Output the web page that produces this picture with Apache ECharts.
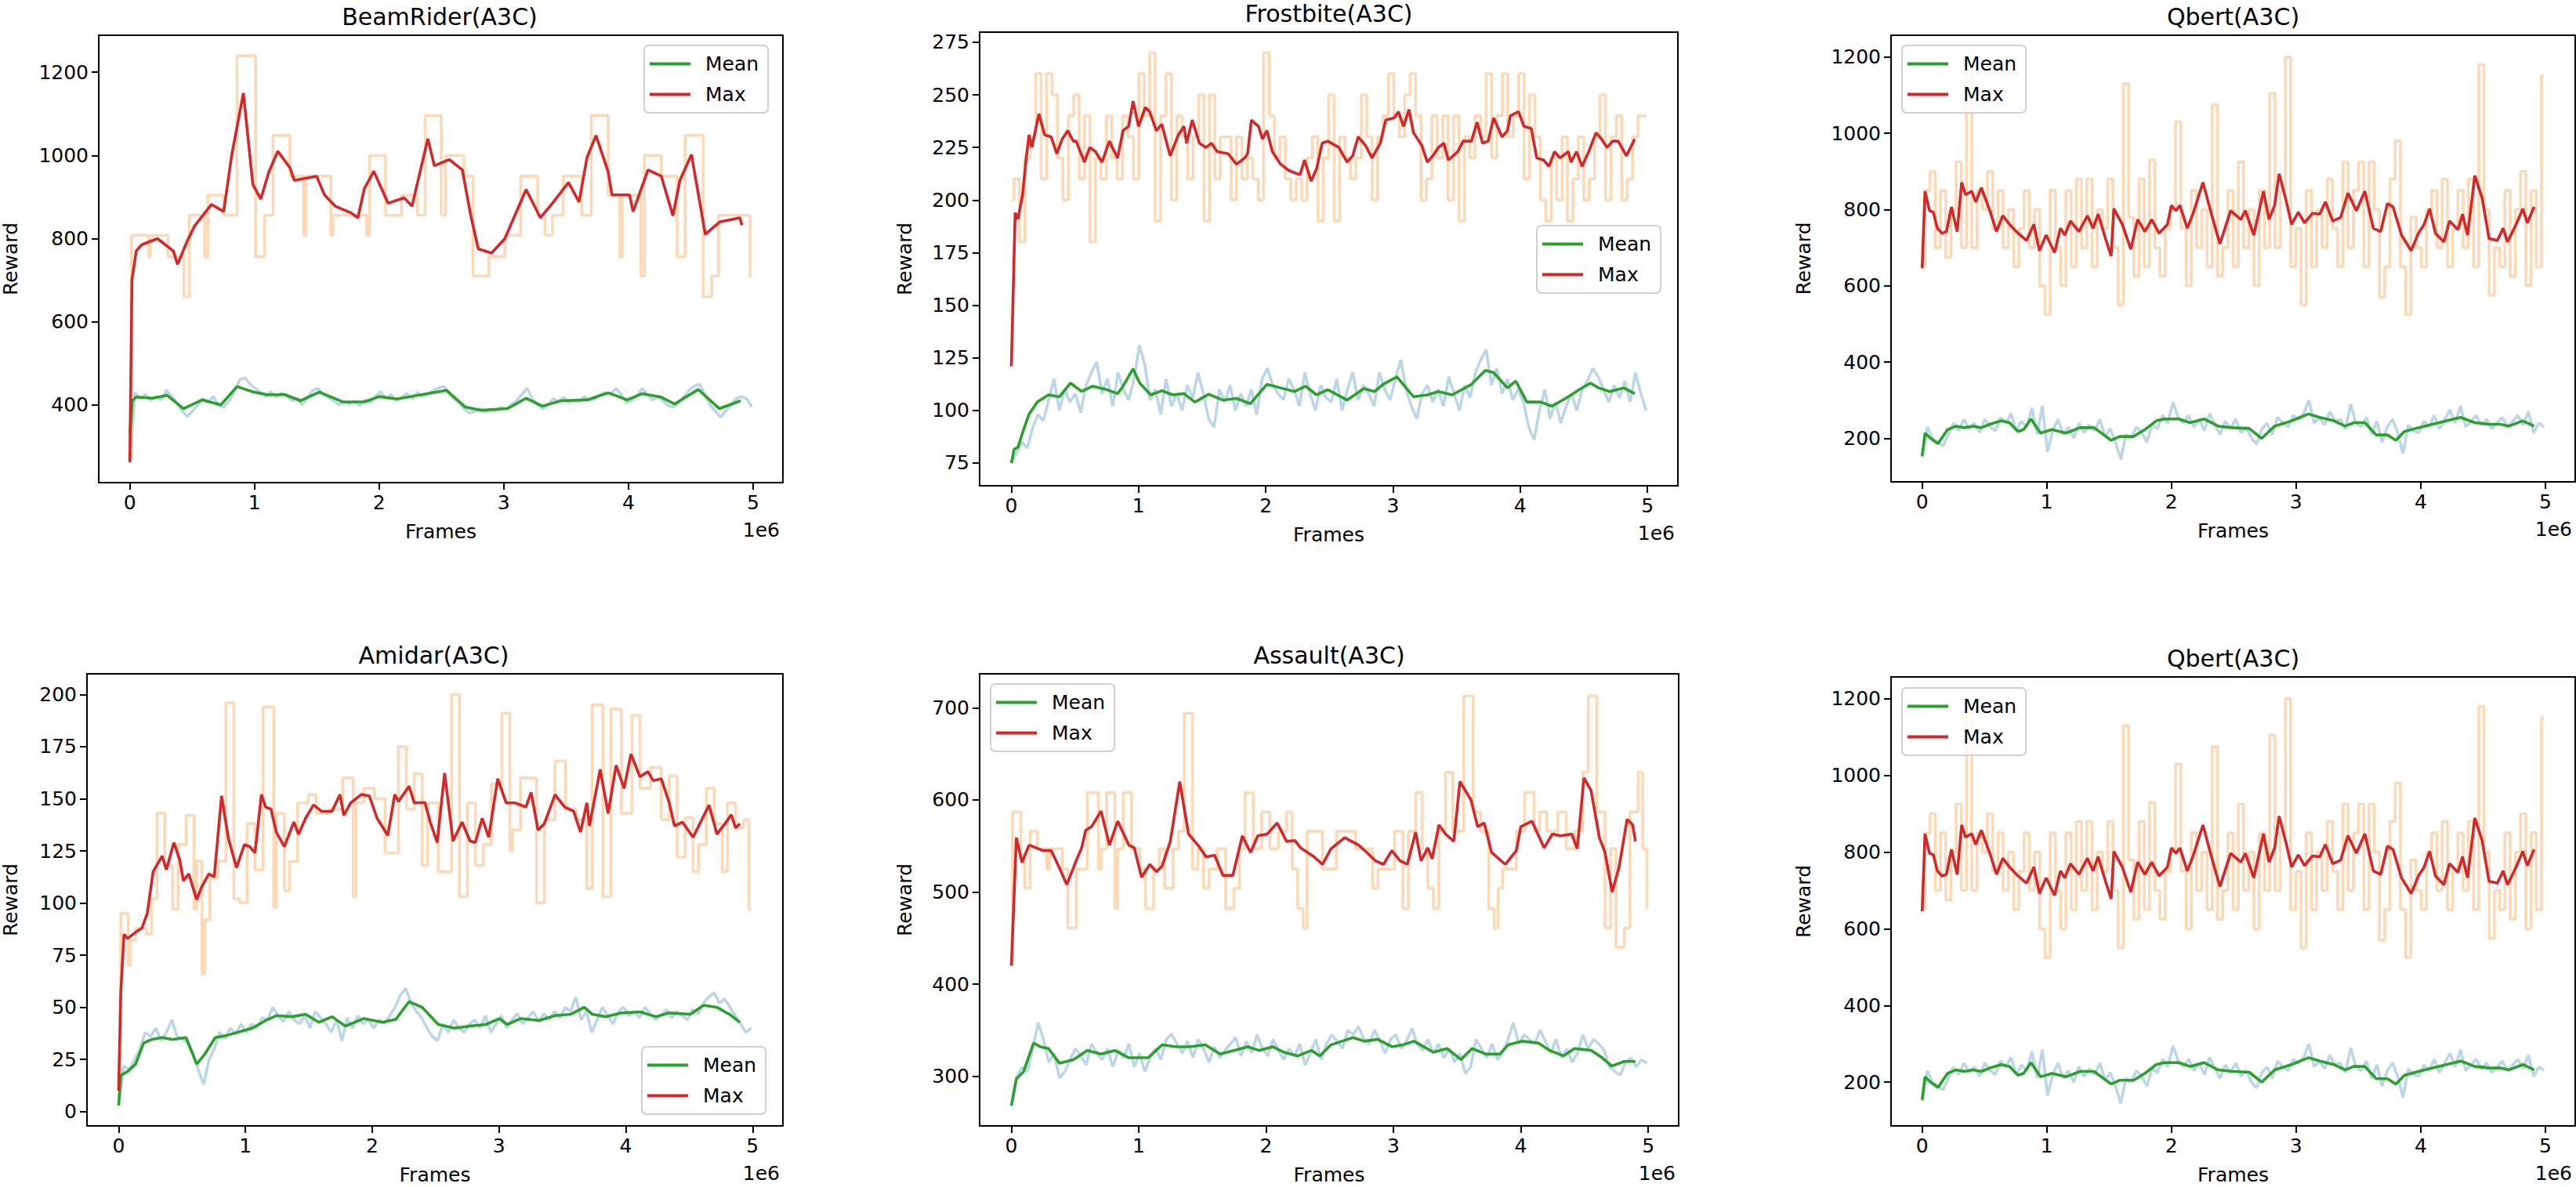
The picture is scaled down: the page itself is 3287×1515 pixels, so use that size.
<!DOCTYPE html>
<html><head><meta charset="utf-8">
<script src="https://cdn.jsdelivr.net/npm/echarts@6/dist/echarts.min.js"></script>
<style>html,body{margin:0;padding:0;background:#fff}#c{width:3287px;height:1515px}</style>
</head><body><div id="c"></div>
<script>
// ---------------- DATA (x in units of 1e6 frames) ----------------
const xTicks = [0, 1, 2, 3, 4, 5];
const RAW_END = 4.99;

// BeamRider
const brTicks = [400, 600, 800, 1000, 1200];
const brRawMean = [262,430,415,425,410,420,412,435,420,405,385,372,385,400,415,408,420,398,395,410,430,460,465,450,
440,430,420,432,418,428,422,410,415,400,418,435,440,425,418,410,400,408,402,410,398,412,405,420,
432,415,425,410,418,428,415,430,420,425,435,440,445,430,415,405,390,380,385,392,382,390,385,395,
390,400,410,425,440,415,400,390,400,415,408,418,405,412,408,420,410,415,425,430,425,440,425,
405,410,420,440,425,412,420,410,398,395,405,420,435,445,450,425,400,385,370,385,400,415,420,415,395];
const brMeanX = [0,0.02,0.05,0.18,0.3,0.43,0.58,0.73,0.86,0.99,1.11,1.24,1.37,1.52,1.71,1.88,2.0,2.14,2.31,2.54,2.69,2.82,3.03,3.18,3.31,3.46,3.67,3.84,3.99,4.11,4.26,4.37,4.56,4.73,4.9];
const brMeanY = [330,410,419,416,423,391,412,400,444,431,424,425,410,431,407,407,420,414,423,435,395,387,391,416,397,410,412,429,412,427,419,402,437,391,410];
const brRawMaxX = [0,0.013,0.15,0.165,0.306,0.434,0.477,0.6,0.626,0.753,0.86,1.009,1.081,1.149,1.285,1.395,1.413,1.613,1.63,1.9,1.923,2.051,2.179,2.306,2.37,2.498,2.532,2.681,2.753,2.881,3.009,3.136,3.272,3.33,3.39,3.477,3.626,3.702,3.838,3.93,3.95,4.1,4.128,4.264,4.391,4.455,4.6,4.668,4.723,4.975,4.99];
const brRawMaxY = [270,808,756,808,756,660,856,756,904,856,1240,756,856,1048,950,808,950,808,856,808,1000,856,904,856,1096,856,1000,950,710,756,808,950,856,808,856,950,856,1096,904,756,904,710,1000,950,756,1048,660,710,856,710,710];
const brMaxX = [0,0.017,0.051,0.094,0.221,0.349,0.383,0.455,0.519,0.655,0.753,0.817,0.911,0.987,1.051,1.115,1.187,1.285,1.319,1.498,1.562,1.647,1.774,1.83,1.881,1.957,2.072,2.2,2.264,2.328,2.391,2.443,2.562,2.668,2.732,2.796,2.902,3.009,3.179,3.294,3.391,3.519,3.604,3.668,3.74,3.838,3.868,4.009,4.038,4.157,4.264,4.357,4.413,4.506,4.617,4.732,4.894,4.911];
const brMaxY = [262,700,770,785,800,770,738,790,830,882,865,1000,1150,930,895,960,1010,970,940,950,905,878,862,850,920,962,885,898,878,960,1040,975,990,965,860,775,765,800,918,850,885,935,888,995,1048,960,905,905,865,965,950,855,940,1002,810,840,850,832];

// Frostbite
const fbTicks = [75, 100, 125, 150, 175, 200, 225, 250, 275];
const fbRawMean = [75,80,85,82,92,98,95,105,115,100,110,104,108,99,112,118,123,108,115,102,118,110,105,115,
131,122,105,110,98,115,102,108,100,112,106,118,108,96,92,110,104,112,100,108,102,110,98,115,
120,112,108,105,115,110,102,118,108,100,112,106,104,115,100,110,118,105,112,108,102,118,110,105,
115,124,110,102,96,108,112,104,110,102,116,108,100,112,106,118,124,129,112,120,108,115,105,110,
104,92,86,100,110,96,104,94,102,108,100,110,114,120,116,110,104,112,106,114,104,118,108,100];
const fbMeanX = [0,0.022,0.052,0.096,0.139,0.204,0.291,0.378,0.465,0.552,0.639,0.748,0.835,0.878,0.957,1.009,1.096,1.183,1.27,1.357,1.443,1.552,1.661,1.77,1.878,2.009,2.117,2.226,2.313,2.4,2.487,2.639,2.77,2.857,2.922,3.03,3.161,3.27,3.357,3.465,3.617,3.726,3.791,3.9,3.965,4.052,4.161,4.248,4.357,4.465,4.552,4.617,4.704,4.813,4.9];
const fbMeanY = [75,81.6,82.5,90.8,98.2,104,107.4,106.5,113,109,111.5,109.9,108,111.5,119.8,113,107.4,109.4,107.4,108,104,107.7,104.9,105.7,103.2,112.4,110.7,109,111.5,107.4,109.9,104.9,110.4,109,112.4,116,106.5,107.4,109,107.4,112.4,119,118,110.7,114,104,104,102,105.7,109.9,113,110.7,109,110.7,108];
const fbRawMax = [200,210,180,220,230,260,210,260,250,220,200,240,250,210,240,180,220,210,240,220,210,240,230,210,260,240,270,190,240,260,200,240,230,210,230,250,190,250,210,230,230,200,230,210,220,210,200,270,240,220,230,210,200,210,200,220,230,190,220,250,190,230,220,210,220,250,230,200,230,240,260,240,230,250,260,240,200,210,240,220,240,200,240,190,230,220,240,230,260,220,240,260,230,240,260,210,250,230,200,190,220,200,230,190,210,230,200,210,230,250,200,230,240,200,210,230,240,240];
const fbMaxX = [0,0.03,0.052,0.087,0.117,0.139,0.161,0.217,0.261,0.313,0.357,0.4,0.443,0.487,0.509,0.574,0.617,0.661,0.713,0.77,0.835,0.878,0.922,0.957,1.0,1.052,1.087,1.139,1.183,1.248,1.313,1.357,1.378,1.422,1.478,1.53,1.574,1.617,1.704,1.77,1.835,1.857,1.887,1.943,1.974,2.009,2.052,2.117,2.183,2.27,2.304,2.357,2.4,2.443,2.487,2.574,2.639,2.683,2.726,2.783,2.835,2.9,2.943,3.009,3.043,3.083,3.126,3.161,3.226,3.27,3.313,3.357,3.4,3.435,3.509,3.552,3.617,3.661,3.704,3.748,3.791,3.857,3.9,3.922,3.987,4.03,4.087,4.13,4.183,4.226,4.27,4.313,4.378,4.4,4.443,4.487,4.539,4.596,4.639,4.683,4.726,4.77,4.835,4.9];
const fbMaxY = [121,194,191,202,220,231,225,241,231,230,222,229,233,228,228,218,225,223,218,228,220,233,235,247,235,244,242,233,236,221,231,235,227,238,227,225,227,223,222,217,220,222,238,235,229,233,223,217,214,212,219,209,215,227,228,225,218,221,230,226,220,227,238,239,242,235,243,232,226,218,221,225,227,219,223,228,228,237,227,228,239,230,233,240,242,235,234,220,219,216,223,220,223,218,223,216,223,232,229,225,228,228,221,229];

// Qbert
const qbTicks = [200, 400, 600, 800, 1000, 1200];
const qbRawMean = [150,230,200,190,180,210,240,220,250,225,240,215,250,230,220,255,240,265,220,245,230,280,210,285,
165,220,250,210,230,200,240,215,235,220,250,205,225,190,145,210,200,230,215,190,235,225,260,240,
295,255,240,260,230,250,220,265,235,210,245,225,250,215,230,200,185,225,240,210,255,240,230,260,
250,265,300,240,255,235,270,245,250,225,290,240,230,255,210,245,190,230,250,215,160,235,220,215,
245,230,260,225,250,275,240,285,230,245,260,235,250,225,240,255,230,245,260,235,270,215,240,230];
const qbMeanX = [0,0.023,0.068,0.127,0.204,0.271,0.339,0.407,0.475,0.543,0.633,0.701,0.769,0.814,0.873,0.95,1.041,1.154,1.267,1.38,1.516,1.584,1.697,1.787,1.878,1.946,2.059,2.149,2.262,2.376,2.489,2.624,2.724,2.828,2.964,3.1,3.19,3.303,3.394,3.462,3.552,3.643,3.733,3.801,3.869,3.982,4.095,4.208,4.321,4.434,4.548,4.638,4.706,4.819,4.91];
const qbMeanY = [154,214,200,186,223,232,228,232,228,237,246,241,218,223,251,214,223,214,228,228,195,205,205,223,246,251,251,241,251,232,228,226,200,232,246,264,255,246,232,241,241,209,209,195,218,228,237,246,255,241,237,237,232,246,232];
const qbRawMax = [650,850,900,700,850,675,800,925,700,1175,700,850,800,900,750,850,700,800,650,750,850,700,800,600,
525,850,700,600,850,650,880,700,880,650,800,750,880,700,550,1130,780,625,880,650,930,700,625,750,
800,1030,750,600,850,700,800,650,1075,625,700,850,650,925,700,800,600,850,700,1105,700,850,1200,650,
750,550,850,650,800,700,880,750,650,925,700,850,925,650,925,800,570,650,880,980,650,525,780,700,
650,800,850,700,880,650,750,850,700,880,650,1180,800,575,700,650,850,625,800,900,600,850,650,1150];
const qbMaxX = [0,0.023,0.059,0.09,0.122,0.158,0.195,0.235,0.281,0.317,0.348,0.398,0.43,0.475,0.543,0.597,0.647,0.701,0.769,0.837,0.896,0.941,0.995,1.063,1.109,1.145,1.19,1.258,1.326,1.371,1.412,1.471,1.516,1.538,1.606,1.674,1.729,1.787,1.842,1.9,1.968,2.0,2.036,2.068,2.127,2.172,2.253,2.321,2.389,2.475,2.557,2.593,2.661,2.692,2.738,2.783,2.828,2.864,2.919,2.964,3.018,3.068,3.131,3.19,3.235,3.294,3.357,3.416,3.484,3.552,3.62,3.679,3.733,3.778,3.846,3.923,3.982,4.027,4.072,4.118,4.186,4.231,4.299,4.335,4.376,4.434,4.493,4.548,4.615,4.661,4.697,4.765,4.819,4.855,4.91];
const qbMaxY = [646,848,797,793,751,738,742,807,742,871,839,848,820,857,797,742,784,761,738,719,761,692,733,687,751,733,770,742,784,751,788,724,678,802,761,696,774,742,774,738,761,811,797,811,751,788,871,788,710,797,774,797,733,779,848,774,811,894,825,761,793,765,790,788,820,770,779,843,797,848,751,742,816,807,733,692,738,761,802,738,715,770,747,788,733,889,830,724,719,751,715,761,802,765,807];

// Amidar
const amTicks = [0, 25, 50, 75, 100, 125, 150, 175, 200];
const amRawMean = [3,22,20,25,30,38,36,40,34,38,44,36,35,33,28,20,13,25,30,38,35,40,37,42,
38,42,40,45,44,50,46,43,48,44,42,46,40,48,45,42,38,44,34,45,40,46,42,44,
40,44,42,46,50,56,59,52,48,45,40,36,34,42,38,44,40,38,42,44,40,46,38,42,
46,40,44,47,42,45,48,43,47,44,48,45,50,48,55,44,48,38,44,50,46,42,48,50,
46,48,45,50,47,44,46,49,45,48,46,44,49,47,52,55,57,52,54,50,46,42,38,40];
const amMeanX = [0,0.017,0.071,0.134,0.197,0.26,0.343,0.427,0.532,0.616,0.678,0.762,0.846,0.951,1.055,1.16,1.244,1.369,1.474,1.579,1.683,1.788,1.935,2.081,2.186,2.291,2.395,2.521,2.647,2.772,2.898,3.003,3.065,3.17,3.317,3.442,3.568,3.673,3.735,3.84,3.966,4.112,4.238,4.343,4.51,4.615,4.719,4.824,4.9];
const amMeanY = [3,17.4,19.2,22.8,32.8,34.6,35.5,34.6,35.5,22.8,27.4,35.5,36.4,38.2,40,43.7,46,45.5,46.7,42.8,45.5,41,44.6,42.8,44.2,52.7,50,41.8,40,41,41.8,44.6,41.8,44.6,43.7,46,46.7,50,46.7,45.5,47.3,47.8,45.5,47.3,46.7,51,50,46.4,42.8];
const amRawMaxX = [0,0.017,0.075,0.092,0.134,0.218,0.26,0.302,0.364,0.427,0.469,0.532,0.595,0.616,0.657,0.678,0.72,0.783,0.846,0.909,0.951,1.013,1.076,1.139,1.223,1.244,1.307,1.348,1.411,1.495,1.558,1.662,1.767,1.851,1.872,1.935,2.018,2.102,2.207,2.27,2.332,2.395,2.437,2.521,2.626,2.688,2.751,2.814,2.877,2.94,3.023,3.086,3.107,3.17,3.296,3.358,3.442,3.526,3.61,3.693,3.735,3.819,3.882,3.966,4.049,4.112,4.196,4.28,4.343,4.405,4.468,4.531,4.573,4.636,4.698,4.761,4.803,4.866,4.929,4.971,4.99];
const amRawMaxY = [10,95,70,82,88,85,102,143,118,97,128,142,97,120,66,92,112,120,196,102,100,138,116,194,98,143,106,120,148,152,143,145,160,103,148,155,150,124,175,145,162,118,148,115,200,103,148,118,128,157,191,125,135,160,100,140,168,145,140,107,195,103,193,143,190,155,165,140,161,122,141,115,128,155,138,115,148,136,140,97,97];
const amMaxX = [0,0.017,0.042,0.071,0.134,0.184,0.226,0.272,0.343,0.377,0.436,0.482,0.511,0.553,0.616,0.657,0.712,0.754,0.812,0.867,0.93,0.992,1.034,1.076,1.126,1.16,1.202,1.244,1.307,1.382,1.42,1.474,1.537,1.6,1.683,1.746,1.776,1.83,1.914,1.977,2.039,2.123,2.178,2.207,2.291,2.332,2.416,2.458,2.513,2.571,2.638,2.709,2.772,2.814,2.868,2.919,2.99,3.057,3.128,3.212,3.254,3.308,3.358,3.442,3.518,3.589,3.643,3.693,3.714,3.798,3.861,3.924,3.987,4.041,4.112,4.175,4.217,4.28,4.343,4.384,4.447,4.531,4.657,4.719,4.782,4.832,4.866,4.9];
const amMaxY = [10,57,85,83,86,88,95,115,122.5,116,129,120.7,110.7,114,101.6,108,114,112.5,151.4,130.6,117,128,127,124,152,146,145,134,127,138.8,133,140.6,147,144,144,152,142,148,152,151.4,140.6,132.4,152,148.7,156,148,148.2,138.8,129,162.3,129.7,138.8,129.7,129,140.6,131.5,159.6,148,148,146,153,135,138,152,146,144,134,148,137,164,143,166,155,171.4,160.5,163,158.7,159.6,148,137,138.8,131.5,147,133,138,142.4,136,138];

// Assault
const asTicks = [300, 400, 500, 600, 700];
const asRawMean = [268,300,310,305,330,358,340,315,325,298,305,318,330,322,312,335,325,318,330,310,328,320,335,310,
325,305,320,330,318,340,346,335,325,338,320,340,330,315,332,320,328,335,342,322,338,325,345,330,
322,340,328,318,330,322,335,312,325,340,318,335,345,338,330,350,345,354,340,335,350,338,325,340,
345,330,338,352,335,328,340,325,335,320,330,315,325,303,310,340,330,320,335,318,325,340,358,335,
345,340,335,350,338,325,340,320,330,315,325,345,330,340,335,328,310,305,301,315,320,310,318,314];
const asMeanX = [0,0.039,0.096,0.174,0.226,0.291,0.378,0.487,0.596,0.704,0.813,0.922,1.074,1.183,1.291,1.4,1.522,1.639,1.748,1.857,1.943,2.052,2.139,2.248,2.357,2.422,2.509,2.596,2.683,2.77,2.878,2.987,3.074,3.161,3.313,3.422,3.53,3.617,3.726,3.835,3.9,4.009,4.139,4.226,4.335,4.422,4.552,4.639,4.713,4.813,4.9];
const asMeanY = [268,297,305,336,332,330,314,318,328,324,328,320,320,334,332,332,334,324,328,332,328,332,326,322,328,322,334,338,342,338,340,332,334,338,326,330,318,330,324,324,334,338,336,328,322,330,328,320,311,316,316];
const asRawMaxX = [0,0.009,0.074,0.104,0.148,0.204,0.278,0.3,0.4,0.443,0.509,0.596,0.683,0.704,0.748,0.813,0.835,0.878,0.943,1.009,1.052,1.117,1.161,1.204,1.27,1.313,1.357,1.422,1.465,1.509,1.552,1.617,1.683,1.748,1.791,1.835,1.9,1.965,2.03,2.096,2.161,2.204,2.248,2.291,2.322,2.443,2.552,2.704,2.835,2.878,3.009,3.074,3.117,3.174,3.226,3.27,3.313,3.357,3.409,3.465,3.552,3.626,3.683,3.748,3.791,3.822,3.857,3.965,4.03,4.104,4.148,4.204,4.291,4.357,4.422,4.487,4.53,4.596,4.661,4.704,4.748,4.813,4.857,4.922,4.957,4.99];
const asRawMaxY = [420,587,540,504,566,547,525,547,525,461,525,608,525,547,608,482,547,608,547,525,482,525,547,504,547,566,694,525,547,504,525,547,482,504,547,608,547,587,547,566,587,525,482,461,566,525,566,547,504,525,566,482,566,608,547,504,482,566,630,566,713,587,566,482,461,504,525,566,608,566,587,566,587,547,566,630,713,587,461,547,440,461,587,630,547,482];
const asMaxX = [0,0.039,0.083,0.139,0.248,0.313,0.378,0.435,0.509,0.552,0.583,0.63,0.704,0.77,0.835,0.922,0.965,1.022,1.087,1.139,1.183,1.248,1.322,1.391,1.465,1.53,1.596,1.661,1.739,1.813,1.878,1.935,2.009,2.087,2.161,2.226,2.27,2.378,2.443,2.509,2.617,2.726,2.791,2.857,2.922,2.987,3.052,3.109,3.174,3.217,3.27,3.304,3.357,3.409,3.474,3.522,3.609,3.661,3.713,3.77,3.878,3.965,4.0,4.087,4.183,4.248,4.313,4.4,4.443,4.496,4.552,4.617,4.661,4.717,4.77,4.835,4.878,4.9];
const asMaxY = [420,559,532,551,545,545,526,508,534,548,567,571,588,551,577,551,548,516,530,522,528,555,620,563,551,538,540,518,518,561,543,561,563,575,555,556,548,538,530,547,559,551,543,534,530,545,534,530,565,534,548,536,573,563,555,620,600,571,575,543,530,545,571,577,548,563,561,563,547,624,610,559,543,500,526,579,573,555];

// ---------------- BUILD ----------------
function zip(xs, ys) { return xs.map((x, i) => [x, ys[i]]); }
function regular(ys) { return ys.map((y, i) => [i * RAW_END / (ys.length - 1), y]); }

const FONT = 'DejaVu Sans';
const panels = [
  { title: 'BeamRider(A3C)', g: [123, 45, 876, 571], y: [213, 1289], ticks: brTicks, gap: 100, leg: [822, 58],
    rawMean: regular(brRawMean), mean: zip(brMeanX, brMeanY), rawMax: zip(brRawMaxX, brRawMaxY), step: 'end', max: zip(brMaxX, brMaxY) },
  { title: 'Frostbite(A3C)', g: [1250, 41, 891, 579], y: [64.2, 279.8], ticks: fbTicks, gap: 83, leg: [1961, 288],
    rawMean: regular(fbRawMean), mean: zip(fbMeanX, fbMeanY), rawMax: regular(fbRawMax), step: 'middle', max: zip(fbMaxX, fbMaxY) },
  { title: 'Qbert(A3C)', g: [2413, 45, 873, 570], y: [86, 1257], ticks: qbTicks, gap: 99, leg: [2427, 58],
    rawMean: regular(qbRawMean), mean: zip(qbMeanX, qbMeanY), rawMax: regular(qbRawMax), step: 'middle', max: zip(qbMaxX, qbMaxY) },
  { title: 'Amidar(A3C)', g: [108, 860, 891, 577], y: [-6.85, 209.9], ticks: amTicks, gap: 85, leg: [819, 1336],
    rawMean: regular(amRawMean), mean: zip(amMeanX, amMeanY), rawMax: zip(amRawMaxX, amRawMaxY), step: 'end', max: zip(amMaxX, amMaxY) },
  { title: 'Assault(A3C)', g: [1250, 860, 892, 577], y: [246, 737], ticks: asTicks, gap: 83, leg: [1264, 873],
    rawMean: regular(asRawMean), mean: zip(asMeanX, asMeanY), rawMax: zip(asRawMaxX, asRawMaxY), step: 'end', max: zip(asMaxX, asMaxY) },
  { title: 'Qbert(A3C)', g: [2413, 864, 873, 573], y: [86, 1257], ticks: qbTicks, gap: 99, leg: [2427, 878],
    rawMean: regular(qbRawMean), mean: zip(qbMeanX, qbMeanY), rawMax: regular(qbRawMax), step: 'middle', max: zip(qbMaxX, qbMaxY) }
];

const LW = 3.6;
const grid = [], xAxis = [], yAxis = [], series = [], legend = [], graphic = [];
panels.forEach((p, k) => {
  const [l, t, w, h] = p.g;
  grid.push({ left: l, top: t, width: w, height: h, show: true, borderColor: '#000', borderWidth: 2, backgroundColor: 'rgba(0,0,0,0)' });
  const axisCommon = {
    gridIndex: k, type: 'value',
    axisLine: { show: true, onZero: false, lineStyle: { color: '#000', width: 2 } },
    splitLine: { show: false },
    nameTextStyle: { fontSize: 25, color: '#000', fontFamily: FONT }
  };
  xAxis.push(Object.assign({}, axisCommon, {
    min: -0.2495, max: 5.2395,
    axisTick: { show: true, length: 9, lineStyle: { color: '#000', width: 2 }, customValues: xTicks },
    axisLabel: { customValues: xTicks, fontSize: 25, color: '#000', fontFamily: FONT, margin: 13, formatter: v => String(Math.round(v)) },
    name: 'Frames', nameLocation: 'middle', nameGap: 50
  }));
  yAxis.push(Object.assign({}, axisCommon, {
    min: p.y[0], max: p.y[1],
    axisTick: { show: true, length: 9, lineStyle: { color: '#000', width: 2 }, customValues: p.ticks },
    axisLabel: { customValues: p.ticks, fontSize: 25, color: '#000', fontFamily: FONT, margin: 13, formatter: v => String(Math.round(v)) },
    name: 'Reward', nameLocation: 'middle', nameRotate: 90, nameGap: p.gap
  }));
  const base = { type: 'line', xAxisIndex: k, yAxisIndex: k, symbol: 'none', showSymbol: false, silent: true, animation: false, clip: true };
  series.push(Object.assign({}, base, { name: 'rawMean' + k, data: p.rawMean, z: 2,
    lineStyle: { color: '#1f77b4', opacity: 0.3, width: LW } }));
  series.push(Object.assign({}, base, { name: 'rawMax' + k, data: p.rawMax, step: p.step, z: 2,
    lineStyle: { color: '#ff7f0e', opacity: 0.3, width: LW } }));
  series.push(Object.assign({}, base, { name: 'Mean', data: p.mean, z: 3, color: '#2ca02c',
    itemStyle: { color: '#2ca02c' }, lineStyle: { color: '#2ca02c', width: LW } }));
  series.push(Object.assign({}, base, { name: 'Max', data: p.max, z: 4, color: '#d62728',
    itemStyle: { color: '#d62728' }, lineStyle: { color: '#d62728', width: LW } }));
  legend.push({
    data: ['Mean', 'Max'], orient: 'vertical', left: p.leg[0], top: p.leg[1], z: 10,
    icon: 'rect', itemWidth: 52, itemHeight: 4, itemGap: 14, selectedMode: false,
    padding: [11, 12, 11, 7], borderColor: '#cfcfcf', borderWidth: 2, borderRadius: 6,
    backgroundColor: 'rgba(255,255,255,0.85)',
    textStyle: { fontSize: 25, color: '#000', fontFamily: FONT, padding: [0, 0, 0, 14] }
  });
  graphic.push({ type: 'text', x: l + w / 2, y: t - 24, z: 10,
    style: { text: p.title, fill: '#000', font: '30px "DejaVu Sans"', textAlign: 'center', textVerticalAlign: 'middle', align: 'center', verticalAlign: 'middle' } });
  graphic.push({ type: 'text', x: l + w - 4, y: t + h + 60, z: 10,
    style: { text: '1e6', fill: '#000', font: '25px "DejaVu Sans"', textAlign: 'right', textVerticalAlign: 'middle', align: 'right', verticalAlign: 'middle' } });
});

const chart = echarts.init(document.getElementById('c'), null, { renderer: 'svg' });
chart.setOption({
  animation: false,
  backgroundColor: '#fff',
  textStyle: { fontFamily: FONT },
  grid, xAxis, yAxis, series, legend, graphic
});
</script></body></html>
